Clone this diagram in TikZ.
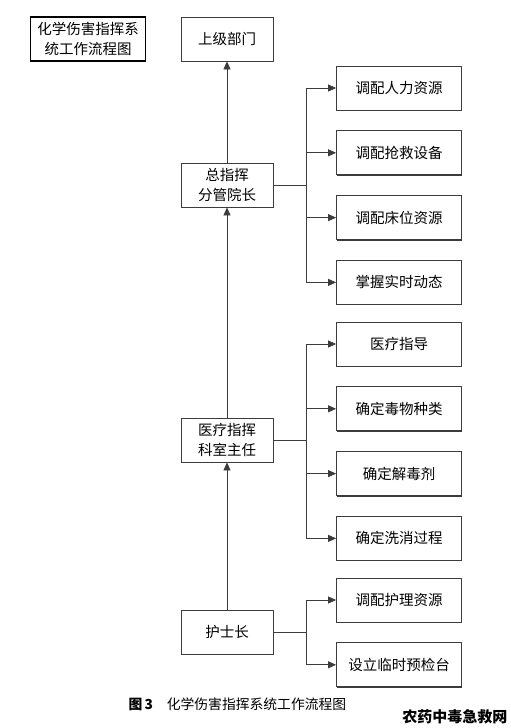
\documentclass[tikz,border=0pt]{standalone}
\usepackage{fontspec}
\newfontfamily\cjk{Noto Sans CJK SC}
\usepackage{tikz}
\usetikzlibrary{arrows.meta, positioning, shadows}
\definecolor{boxline}{RGB}{60, 60, 60}

\begin{document}
\begin{tikzpicture}[
    x=1pt, y=-1pt,
    font=\cjk\fontsize{14.5}{20}\selectfont,
    box/.style={draw=boxline, line width=0.8pt, fill=white, minimum width=92pt,
                minimum height=44pt, align=center, inner sep=1pt,
                drop shadow={shadow xshift=0.9pt, shadow yshift=-0.9pt, fill=boxline, opacity=1}},
    task/.style={box, minimum width=125pt},
    title/.style={draw=black, line width=1.6pt, minimum width=115pt, minimum height=44pt,
                  align=center, inner sep=1pt},
    link/.style={draw=boxline, line width=0.8pt},
    arr/.style={link, -{Triangle[length=8pt, width=7pt]}}
]
    \useasboundingbox (0,0) rectangle (511,728);

    \node[title] (name) at (88,39) {化学伤害指挥系\\统工作流程图};

    % main column
    \node[box] (upper) at (227,39) {上级部门};
    \node[box] (chief) at (227,185) {总指挥\\分管院长};
    \node[box] (doctor) at (227,440) {医疗指挥\\科室主任};
    \node[box] (nurse) at (227,632) {护士长};

    % tasks of the chief
    \node[task] (c1) at (399,88) {调配人力资源};
    \node[task, below=20pt of c1] (c2) {调配抢救设备};
    \node[task, below=20pt of c2] (c3) {调配床位资源};
    \node[task, below=20pt of c3] (c4) {掌握实时动态};

    % tasks of the doctor
    \node[task] (d1) at (399,344) {医疗指导};
    \node[task, below=20pt of d1] (d2) {确定毒物种类};
    \node[task, below=20pt of d2] (d3) {确定解毒剂};
    \node[task, below=20pt of d3] (d4) {确定洗消过程};

    % tasks of the nurse
    \node[task] (n1) at (399,600) {调配护理资源};
    \node[task, below=20pt of n1] (n2) {设立临时预检台};

    % upward chain
    \draw[arr] (nurse.north) -- (doctor.south);
    \draw[arr] (doctor.north) -- (chief.south);
    \draw[arr] (chief.north) -- (upper.south);

    % branches
    \draw[link] (chief.east) -- ++(33,0) coordinate (cb);
    \foreach \t in {c1,c2,c3,c4}
        \draw[arr] (cb) |- (\t.west);
    \draw[link] (doctor.east) -- ++(33,0) coordinate (db);
    \foreach \t in {d1,d2,d3,d4}
        \draw[arr] (db) |- (\t.west);
    \draw[link] (nurse.east) -- ++(33,0) coordinate (nb);
    \foreach \t in {n1,n2}
        \draw[arr] (nb) |- (\t.west);

    % caption
    \node[anchor=west, font=\cjk\fontsize{13.8}{16}\selectfont] (caption) at (125,704)
        {\textbf{图\,3}\quad 化学伤害指挥系统工作流程图};
    \node[anchor=east, font=\cjk\bfseries\fontsize{15}{16}\selectfont] (mark) at (511,717)
        {农药中毒急救网};
\end{tikzpicture}
\end{document}
